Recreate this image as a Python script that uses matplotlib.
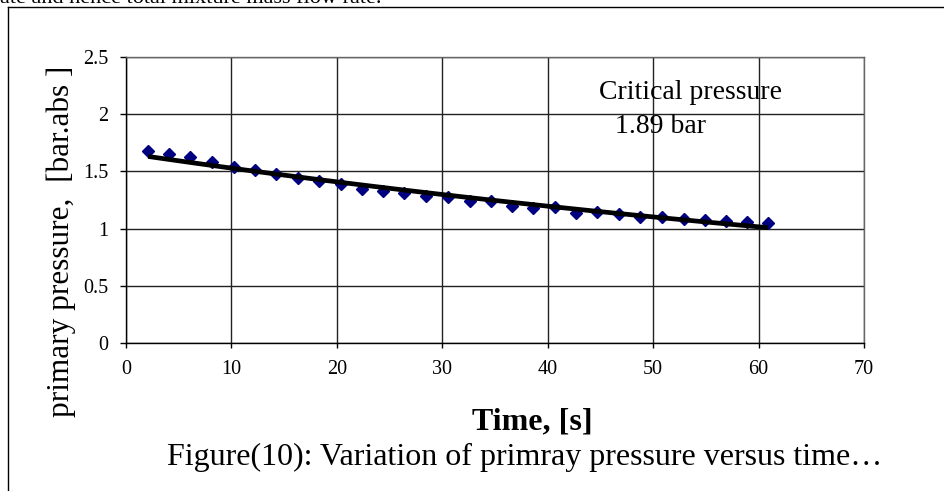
import numpy as np
import matplotlib
matplotlib.use("Agg")
import matplotlib.pyplot as plt
from matplotlib.lines import Line2D

plt.rcParams['font.family'] = ['Liberation Serif', 'DejaVu Serif']

time_s = [2.1, 4.1, 6.1, 8.2, 10.2, 12.2, 14.2, 16.3, 18.3, 20.4,
          22.4, 24.4, 26.4, 28.5, 30.5, 32.6, 34.6, 36.6, 38.6, 40.7,
          42.7, 44.7, 46.8, 48.8, 50.8, 52.9, 54.9, 56.9, 58.9, 60.9]
pressure = [1.678, 1.652, 1.623, 1.585, 1.541, 1.512, 1.477, 1.440, 1.419, 1.390,
            1.349, 1.329, 1.314, 1.288, 1.274, 1.241, 1.243, 1.196, 1.183, 1.190,
            1.139, 1.148, 1.125, 1.104, 1.099, 1.081, 1.075, 1.069, 1.060, 1.048]
x_ticks = [0, 10, 20, 30, 40, 50, 60, 70]
y_ticks = [0, 0.5, 1, 1.5, 2, 2.5]
y_tick_labels = ['0', '0.5', '1', '1.5', '2', '2.5']

W, H = 944, 491
fig = plt.figure(figsize=(W/100, H/100), dpi=100)
ax = fig.add_axes([126/W, 1-343/H, (864-126)/W, (343-57)/H])

ax.plot(time_s, pressure, linestyle='none', marker='D', markersize=6.3,
        color='#000080', zorder=3)

# exponential trendline fitted to the data
t = np.array(time_s)
b, a = np.polyfit(t, np.log(pressure), 1)
tt = np.linspace(t.min(), t.max(), 100)
ax.plot(tt, np.exp(a + b*tt), color='black', linewidth=3.4, zorder=4,
        solid_capstyle='butt')

ax.set_xlim(0, 70)
ax.set_ylim(0, 2.5)
ax.set_xticks(x_ticks)
ax.set_yticks(y_ticks)
ax.set_yticklabels(y_tick_labels)
ax.grid(True, color='#222222', linewidth=1.0)
ax.set_axisbelow(True)
for s in ['top', 'right']:
    ax.spines[s].set_color('#666666')
    ax.spines[s].set_linewidth(1.0)
for s in ['left', 'bottom']:
    ax.spines[s].set_color('black')
    ax.spines[s].set_linewidth(1.0)
ax.tick_params(axis='y', direction='out', length=4.3, width=1, labelsize=14.5, pad=8.5)
ax.tick_params(axis='x', direction='out', length=3.5, width=1, labelsize=14.5, pad=9)

ax.text(44.9, 2.133, 'Critical pressure', fontsize=20, ha='left', va='baseline')
ax.text(46.4, 1.836, '1.89 bar', fontsize=20, ha='left', va='baseline')

fig.text(61/W, 1-241/H, 'primary pressure,  [bar.abs ]', rotation=90,
         fontsize=22.5, ha='center', va='center')
fig.text(532/W, 1-422/H, 'Time, [s]', fontsize=23, fontweight='bold',
         ha='center', va='center')
fig.text(525/W, 1-457/H, 'Figure(10): Variation of primray pressure versus time\u2026',
         fontsize=23, ha='center', va='center')

fig.text(0, 1-3/H, 'ate and hence total mixture mass flow rate.', fontsize=16,
         ha='left', va='baseline')

fig.add_artist(Line2D([8/W, 8/W], [0, 1-7/H], color='black', linewidth=1,
                      transform=fig.transFigure))
fig.add_artist(Line2D([8/W, 1], [1-7/H, 1-7/H], color='black', linewidth=1,
                      transform=fig.transFigure))

fig.savefig('out.png', dpi=100)
